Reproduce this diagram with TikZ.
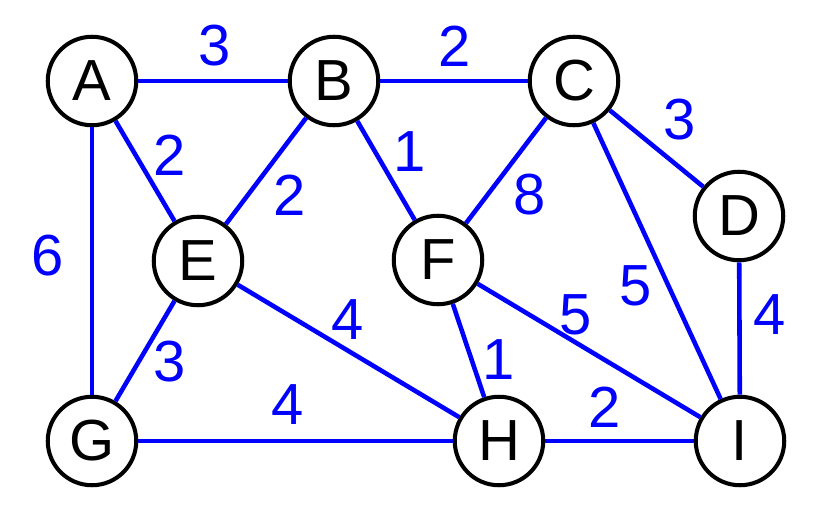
\documentclass[tikz,border=0pt]{standalone}
\usepackage{fontspec}
\setmainfont{Liberation Sans}
\tikzset{
	vertex/.style={circle,draw=black,line width=2.3pt,fill=white,minimum size=1.77cm,inner sep=0pt,font=\fontsize{33}{36}\selectfont},
	wedge/.style={draw=blue,line width=2.6pt},
	weight/.style={text=blue,inner sep=0pt,font=\fontsize{33}{36}\selectfont}
}
\begin{document}
\begin{tikzpicture}[x=0.02cm,y=-0.02cm]
	\useasboundingbox (0,0) rectangle (826,524);
	% vertices
	\foreach \name/\x/\y in {A/92/81, B/334/81, C/574/81, D/739/216, E/198/261,
		F/438/260, G/92/441, H/499/441, I/740/441}
	\node[vertex] (\name) at (\x,\y) {\name};
	% edges
	\foreach \u/\v in {A/B, B/C, C/D, A/E, B/E, B/F, C/F, A/G, E/G,
		E/H, F/H, F/I, C/I, D/I, G/H, H/I}
	\draw[wedge] (\u) -- (\v);
	% weights
	\foreach \w/\x/\y in {3/215/46, 2/455/46, 3/680/120, 2/170/155, 2/290/195,
		1/410/152, 8/530/195, 6/48/256, 3/170/362, 4/348/320, 1/499/360,
		5/576/315, 5/636/286, 4/770/315, 4/288/405, 2/605/407}
	\node[weight] at (\x,\y) {\w};
\end{tikzpicture}
\end{document}
